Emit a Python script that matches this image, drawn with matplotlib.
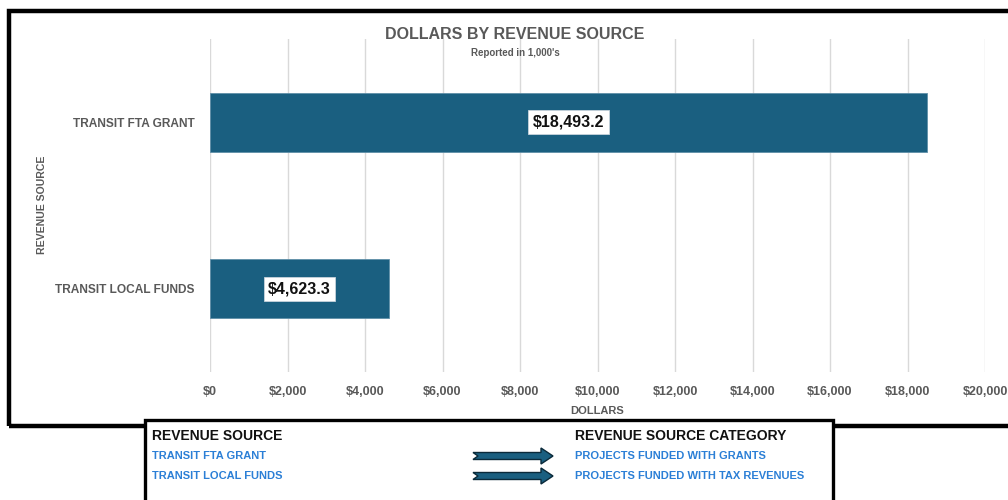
import matplotlib
matplotlib.use("Agg")
import matplotlib.pyplot as plt
from matplotlib.patches import Rectangle, Polygon
from matplotlib.ticker import FuncFormatter

plt.rcParams['font.family'] = ['Liberation Sans', 'DejaVu Sans']

# data (in 1,000's)
sources = ["TRANSIT FTA GRANT", "TRANSIT LOCAL FUNDS"]
dollars = [18493.2, 4623.3]
categories = ["PROJECTS FUNDED WITH GRANTS", "PROJECTS FUNDED WITH TAX REVENUES"]
xticks = list(range(0, 20001, 2000))

W, H = 1008, 500
fig = plt.figure(figsize=(W / 100, H / 100), dpi=100)

def fx(px):
    return px / W

def fy(py):
    return 1 - py / H

gray = "#595959"
bar_color = "#1a5f80"
link_blue = "#2b7fd6"

# outer chart frame
fig.patches.append(Rectangle((fx(9), fy(426)), fx(1040) - fx(9), fy(11) - fy(426),
                             transform=fig.transFigure, fill=False, ec="black",
                             lw=3.2, zorder=0))

ax = fig.add_axes([fx(210), fy(372), fx(985) - fx(210), fy(39) - fy(372)])
ypos = list(range(len(sources)))
ax.barh(ypos, dollars, height=0.355, color=bar_color, edgecolor="#5f8fa8", lw=0.6, zorder=2)
ax.set_ylim(len(sources) - 0.5, -0.5)
ax.set_xlim(0, 20000)
ax.set_xticks(xticks)
ax.xaxis.set_major_formatter(FuncFormatter(lambda v, p: "${:,.0f}".format(v)))
ax.set_yticks(ypos)
ax.set_yticklabels(sources)
ax.tick_params(axis="both", length=0, colors=gray)
ax.tick_params(axis="y", pad=11, labelsize=8.6)
ax.tick_params(axis="x", pad=10, labelsize=9)
for lab in ax.get_xticklabels() + ax.get_yticklabels():
    lab.set_fontweight("bold")
ax.grid(axis="x", color="#d9d9d9", lw=1, zorder=0)
ax.set_axisbelow(True)
for s in ax.spines.values():
    s.set_visible(False)
ax.set_xlabel("DOLLARS", color=gray, fontsize=8, fontweight="bold", labelpad=6)

for y, v in zip(ypos, dollars):
    ax.text(v / 2, y, "${:,.1f}".format(v), ha="center", va="center",
            fontsize=11.5, fontweight="bold", color="#111111", zorder=3,
            bbox=dict(boxstyle="square,pad=0.28", fc="white", ec="#c8d4dc", lw=0.6))

fig.text(fx(42), fy(205), "REVENUE SOURCE", rotation=90, ha="center", va="center",
         color=gray, fontsize=7.6, fontweight="bold")
fig.text(fx(515), fy(34), "DOLLARS BY REVENUE SOURCE", ha="center", va="center",
         color=gray, fontsize=11.5, fontweight="bold")
fig.text(fx(515), fy(53), "Reported in 1,000's", ha="center", va="center",
         color=gray, fontsize=7, fontweight="bold")

# legend box below chart
fig.patches.append(Rectangle((fx(145), fy(540)), fx(833) - fx(145), fy(420) - fy(540),
                             transform=fig.transFigure, fc="white", ec="black",
                             lw=2.4, zorder=5))
fig.text(fx(152), fy(436), "REVENUE SOURCE", ha="left", va="center",
         color="#111111", fontsize=10, fontweight="bold", zorder=6)
fig.text(fx(575), fy(436), "REVENUE SOURCE CATEGORY", ha="left", va="center",
         color="#111111", fontsize=10, fontweight="bold", zorder=6)

for i, (src, cat) in enumerate(zip(sources, categories)):
    yc = 456 + 20 * i
    fig.text(fx(152), fy(yc), src, ha="left", va="center",
             color=link_blue, fontsize=8, fontweight="bold", zorder=6)
    fig.text(fx(575), fy(yc), cat, ha="left", va="center",
             color=link_blue, fontsize=8, fontweight="bold", zorder=6)
    # notched arrow
    x0, x1, xh = 473, 553, 541
    pts = [(x0, yc - 3.5), (xh, yc - 3.5), (xh, yc - 8), (x1, yc), (xh, yc + 8),
           (xh, yc + 3.5), (x0, yc + 3.5), (x0 + 5, yc)]
    fig.patches.append(Polygon([(fx(a), fy(b)) for a, b in pts], closed=True,
                               transform=fig.transFigure, fc=bar_color,
                               ec="#0b2a3a", lw=1.0, zorder=6))

fig.savefig("out.png", dpi=100)
